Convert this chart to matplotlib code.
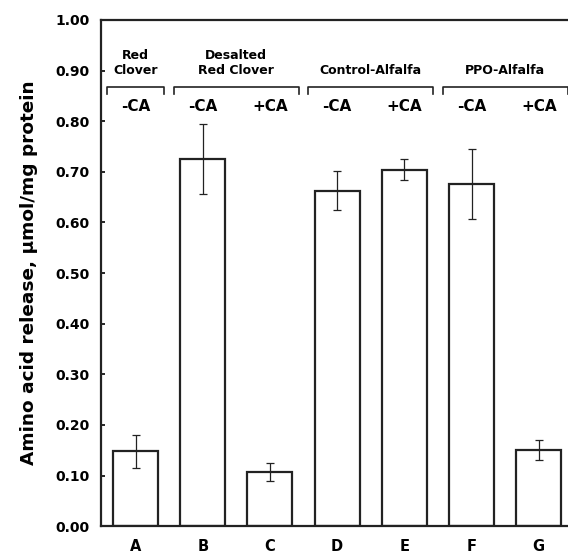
import matplotlib
matplotlib.use("Agg")
import matplotlib.pyplot as plt
import numpy as np

plt.rcParams['font.family'] = ['DejaVu Sans']
plt.rcParams['font.weight'] = 'bold'

# amino acid release per treatment
samples = ['A', 'B', 'C', 'D', 'E', 'F', 'G']
release = [0.148, 0.725, 0.107, 0.663, 0.704, 0.676, 0.151]
release_err = [0.033, 0.069, 0.017, 0.039, 0.021, 0.069, 0.020]
ca_labels = ['-CA', '-CA', '+CA', '-CA', '+CA', '-CA', '+CA']

# groups: (label, first bar index, last bar index)
groups = [('Red\nClover', 0, 0), ('Desalted\nRed Clover', 1, 2),
          ('Control-Alfalfa', 3, 4), ('PPO-Alfalfa', 5, 6)]

fig = plt.figure(figsize=(5.68, 5.55), dpi=100)
ax = fig.add_axes([0.178, 0.052, 0.826, 0.912])

x = np.arange(len(samples))
ax.bar(x, release, width=0.67, color='white', edgecolor='#222222', linewidth=1.6, zorder=2)
ax.errorbar(x, release, yerr=release_err, fmt='none', ecolor='#222222',
            elinewidth=0.9, capsize=3.2, capthick=0.9, zorder=3)

ax.set_xlim(-0.513, 6.47)
ax.set_ylim(0, 1.0)
ax.set_yticks(np.arange(0, 1.01, 0.1))
ax.set_yticklabels([f"{v:.2f}" for v in np.arange(0, 1.01, 0.1)], fontsize=10, fontweight='bold')
ax.set_xticks(x)
ax.set_xticklabels(samples, fontsize=10.5, fontweight='bold')
ax.tick_params(axis='y', direction='in', length=3, width=1.2, pad=8)
ax.tick_params(axis='x', length=0, pad=9)

for side in ['left', 'bottom', 'top']:
    ax.spines[side].set_linewidth(1.6)
    ax.spines[side].set_color('#222222')
ax.spines['right'].set_visible(False)

ax.set_ylabel('Amino acid release, \u03bcmol/mg protein', fontsize=13.3, fontweight='bold', labelpad=13)

# group brackets and labels
for name, i0, i1 in groups:
    x0, x1 = i0 - 0.43, i1 + 0.43
    ax.plot([x0, x0, x1, x1], [0.854, 0.868, 0.868, 0.854], color='#222222', lw=1.2, clip_on=False)
    ax.text((i0 + i1) / 2, 0.887, name, ha='center', va='bottom', fontsize=9,
            fontweight='bold', linespacing=1.25)

for xi, lab in zip(x, ca_labels):
    ax.text(xi, 0.83, lab, ha='center', va='center', fontsize=11, fontweight='bold')

fig.savefig('out.png', dpi=100)
